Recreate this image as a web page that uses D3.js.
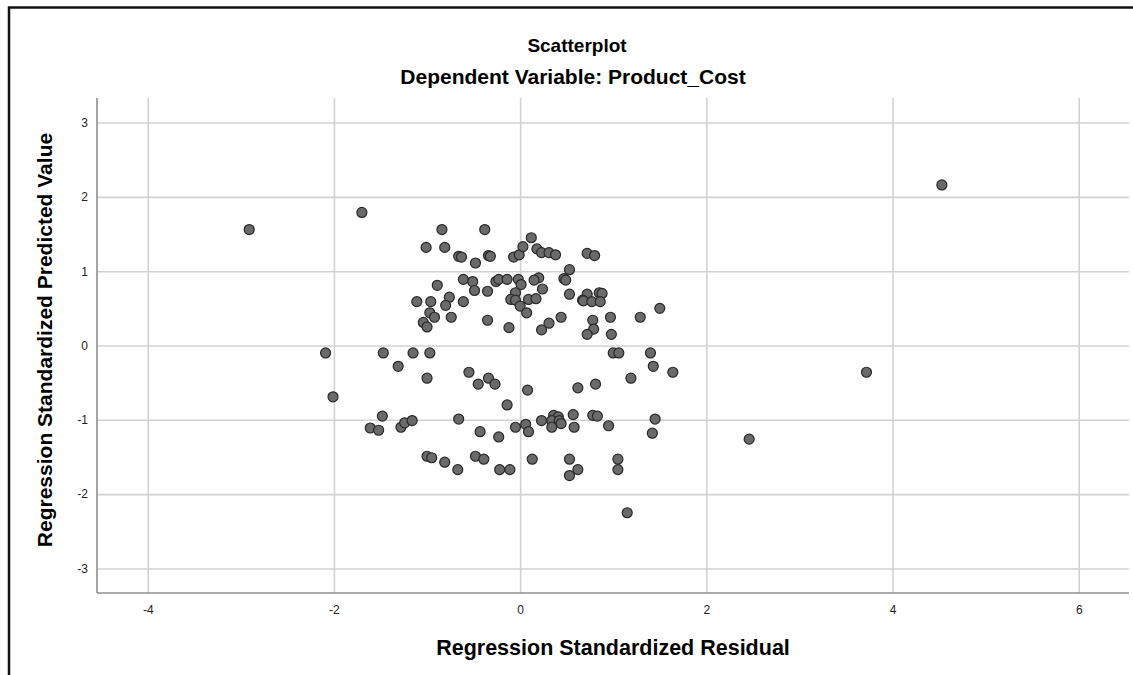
<!DOCTYPE html>
<html>
<head>
<meta charset="utf-8">
<script src="https://d3js.org/d3.v7.min.js"></script>
<style>
  body { margin: 0; background: #fff; }
  text { font-family: "Liberation Sans", Arial, sans-serif; }
</style>
</head>
<body>
<div id="graph"></div>
<script>
'use strict';

// values (x = residual, y = predicted value)
const residual = [
  -2.91, -1.70, -2.09, -2.01, 2.46, 3.72, 4.53, 1.15,
  -0.84, -0.38, -1.01, -0.81, -0.66, -0.63, -0.48, -0.34, -0.32, -0.07, -0.01,
  -0.61, -0.51, -0.49, -0.89, -0.35, -0.26, -0.23, -0.14, -0.02, 0.01, -0.05,
  -0.10, -0.05, 0.00, -1.11, -0.96, -0.76, -0.80, -0.61, -0.97, -0.92, -1.04,
  -1.00, -0.74, -0.35, -0.12,
  0.03, 0.12, 0.18, 0.23, 0.31, 0.38, 0.72, 0.80, 0.53, 0.47, 0.49, 0.20, 0.15,
  0.24, 0.53, 0.72, 0.85, 0.88, 0.67, 0.68, 0.77, 0.86, 0.09, 0.17, 0.07, 0.31,
  0.23, 0.44, 0.78, 0.79, 0.72, 0.97, 0.98, 1.29, 1.50,
  -1.47, -1.15, -0.97, -1.31, -1.00, -0.55, -0.45, -0.34, -0.27, -0.14, -1.48,
  -1.61, -1.52, -1.28, -1.24, -1.16, -0.66, -0.43, -0.23, -0.05, -1.00, -0.95,
  -0.81, -0.67, -0.48, -0.39, -0.22, -0.11,
  1.00, 1.06, 1.40, 1.43, 1.64, 1.19, 0.08, 0.62, 0.81, 0.36, 0.41, 0.57, 0.78,
  0.83, 0.23, 0.34, 0.42, 0.44, 0.34, 0.58, 0.95, 1.45, 1.42, 0.06, 0.09, 0.13,
  0.53, 0.62, 0.53, 1.05, 1.05
];
const predicted = [
  1.56, 1.79, -0.10, -0.69, -1.26, -0.36, 2.16, -2.25,
  1.56, 1.56, 1.32, 1.32, 1.20, 1.19, 1.11, 1.21, 1.20, 1.19, 1.22,
  0.89, 0.86, 0.74, 0.81, 0.73, 0.86, 0.89, 0.89, 0.89, 0.82, 0.71,
  0.62, 0.61, 0.53, 0.59, 0.59, 0.65, 0.54, 0.59, 0.44, 0.38, 0.31,
  0.25, 0.38, 0.34, 0.24,
  1.33, 1.45, 1.30, 1.25, 1.25, 1.22, 1.24, 1.21, 1.02, 0.90, 0.88, 0.91, 0.88,
  0.76, 0.69, 0.69, 0.71, 0.70, 0.61, 0.60, 0.59, 0.59, 0.62, 0.63, 0.44, 0.30,
  0.21, 0.38, 0.34, 0.22, 0.15, 0.38, 0.15, 0.38, 0.50,
  -0.10, -0.10, -0.10, -0.28, -0.44, -0.36, -0.52, -0.44, -0.52, -0.80, -0.95,
  -1.11, -1.14, -1.10, -1.04, -1.01, -0.99, -1.16, -1.23, -1.10, -1.49, -1.51,
  -1.57, -1.67, -1.49, -1.53, -1.67, -1.67,
  -0.10, -0.10, -0.10, -0.28, -0.36, -0.44, -0.60, -0.57, -0.52, -0.94, -0.96,
  -0.93, -0.94, -0.95, -1.01, -1.01, -1.01, -1.05, -1.10, -1.10, -1.08, -0.99,
  -1.18, -1.06, -1.16, -1.53, -1.53, -1.67, -1.75, -1.53, -1.67
];
const xTicks = [-4, -2, 0, 2, 4, 6];
const yTicks = [-3, -2, -1, 0, 1, 2, 3];
const titleText = "Scatterplot";
const subtitleText = "Dependent Variable: Product_Cost";
const xLabel = "Regression Standardized Residual";
const yLabel = "Regression Standardized Predicted Value";

(function() {

  let svgContainer = "";
  const plot = { left: 97, right: 1129, top: 98, bottom: 593 };

  window.onload = function() {
    svgContainer = d3.select('#graph')
      .append('svg')
      .attr('width', 1133)
      .attr('height', 675);

    svgContainer.append('rect')
      .attr('width', 1133).attr('height', 675)
      .attr('fill', '#fff');

    // outer frame (left and top edges of the output box)
    svgContainer.append('path')
      .attr('d', 'M9,675 V7.5 H1133')
      .attr('fill', 'none')
      .attr('stroke', '#111')
      .attr('stroke-width', 2.5);

    let map = drawAxes();
    plotData(map);
    makeLabels();
  }

  // axes with gridlines
  function drawAxes() {
    let xScale = d3.scaleLinear()
      .domain([-4.545, 6.54])
      .range([plot.left, plot.right]);

    let yScale = d3.scaleLinear()
      .domain([-3.33, 3.33])
      .range([plot.bottom, plot.top]);

    // plain hyphen for negatives, as in the source
    let fmt = function(d) { return String(d); };

    let xAxis = d3.axisBottom(xScale)
      .tickValues(xTicks)
      .tickSize(-(plot.bottom - plot.top))
      .tickSizeOuter(0)
      .tickPadding(12)
      .tickFormat(fmt);

    let gx = svgContainer.append('g')
      .attr('transform', 'translate(0,' + plot.bottom + ')')
      .call(xAxis);

    let yAxis = d3.axisLeft(yScale)
      .tickValues(yTicks)
      .tickSize(-(plot.right - plot.left))
      .tickSizeOuter(0)
      .tickPadding(9)
      .tickFormat(fmt);

    let gy = svgContainer.append('g')
      .attr('transform', 'translate(' + plot.left + ',0)')
      .call(yAxis);

    [gx, gy].forEach(function(g) {
      g.selectAll('.tick line')
        .attr('stroke', '#d2d2d2')
        .attr('stroke-width', 1.6);
      g.selectAll('.tick text')
        .attr('fill', '#222')
        .style('font-size', '12px');
      g.select('.domain').remove();
    });

    // axis lines on left and bottom
    svgContainer.append('line')
      .attr('x1', plot.left).attr('x2', plot.left)
      .attr('y1', plot.top).attr('y2', plot.bottom)
      .attr('stroke', '#8f8f8f').attr('stroke-width', 1.6);
    svgContainer.append('line')
      .attr('x1', plot.left).attr('x2', plot.right)
      .attr('y1', plot.bottom).attr('y2', plot.bottom)
      .attr('stroke', '#8f8f8f').attr('stroke-width', 1.6);

    return { x: xScale, y: yScale };
  }

  // the points
  function plotData(map) {
    let points = residual.map(function(r, i) { return { x: r, y: predicted[i] }; });

    svgContainer.append('g')
      .selectAll('circle')
      .data(points)
      .enter()
      .append('circle')
        .attr('cx', function(d) { return map.x(d.x); })
        .attr('cy', function(d) { return map.y(d.y); })
        .attr('r', 5)
        .attr('fill', '#6a6a6a')
        .attr('stroke', '#282828')
        .attr('stroke-width', 1.2);
  }

  // titles
  function makeLabels() {
    svgContainer.append('text')
      .attr('x', 577)
      .attr('y', 52)
      .attr('text-anchor', 'middle')
      .style('font-size', '19px')
      .style('font-weight', 'bold')
      .text(titleText);

    svgContainer.append('text')
      .attr('x', 573)
      .attr('y', 84)
      .attr('text-anchor', 'middle')
      .style('font-size', '21px')
      .style('font-weight', 'bold')
      .text(subtitleText);

    svgContainer.append('text')
      .attr('x', (plot.left + plot.right) / 2)
      .attr('y', 655)
      .attr('text-anchor', 'middle')
      .style('font-size', '21.5px')
      .style('font-weight', 'bold')
      .text(xLabel);

    svgContainer.append('text')
      .attr('transform', 'translate(52,' + 340 + ')rotate(-90)')
      .attr('text-anchor', 'middle')
      .style('font-size', '21px')
      .style('font-weight', 'bold')
      .text(yLabel);
  }

})();
</script>
</body>
</html>
